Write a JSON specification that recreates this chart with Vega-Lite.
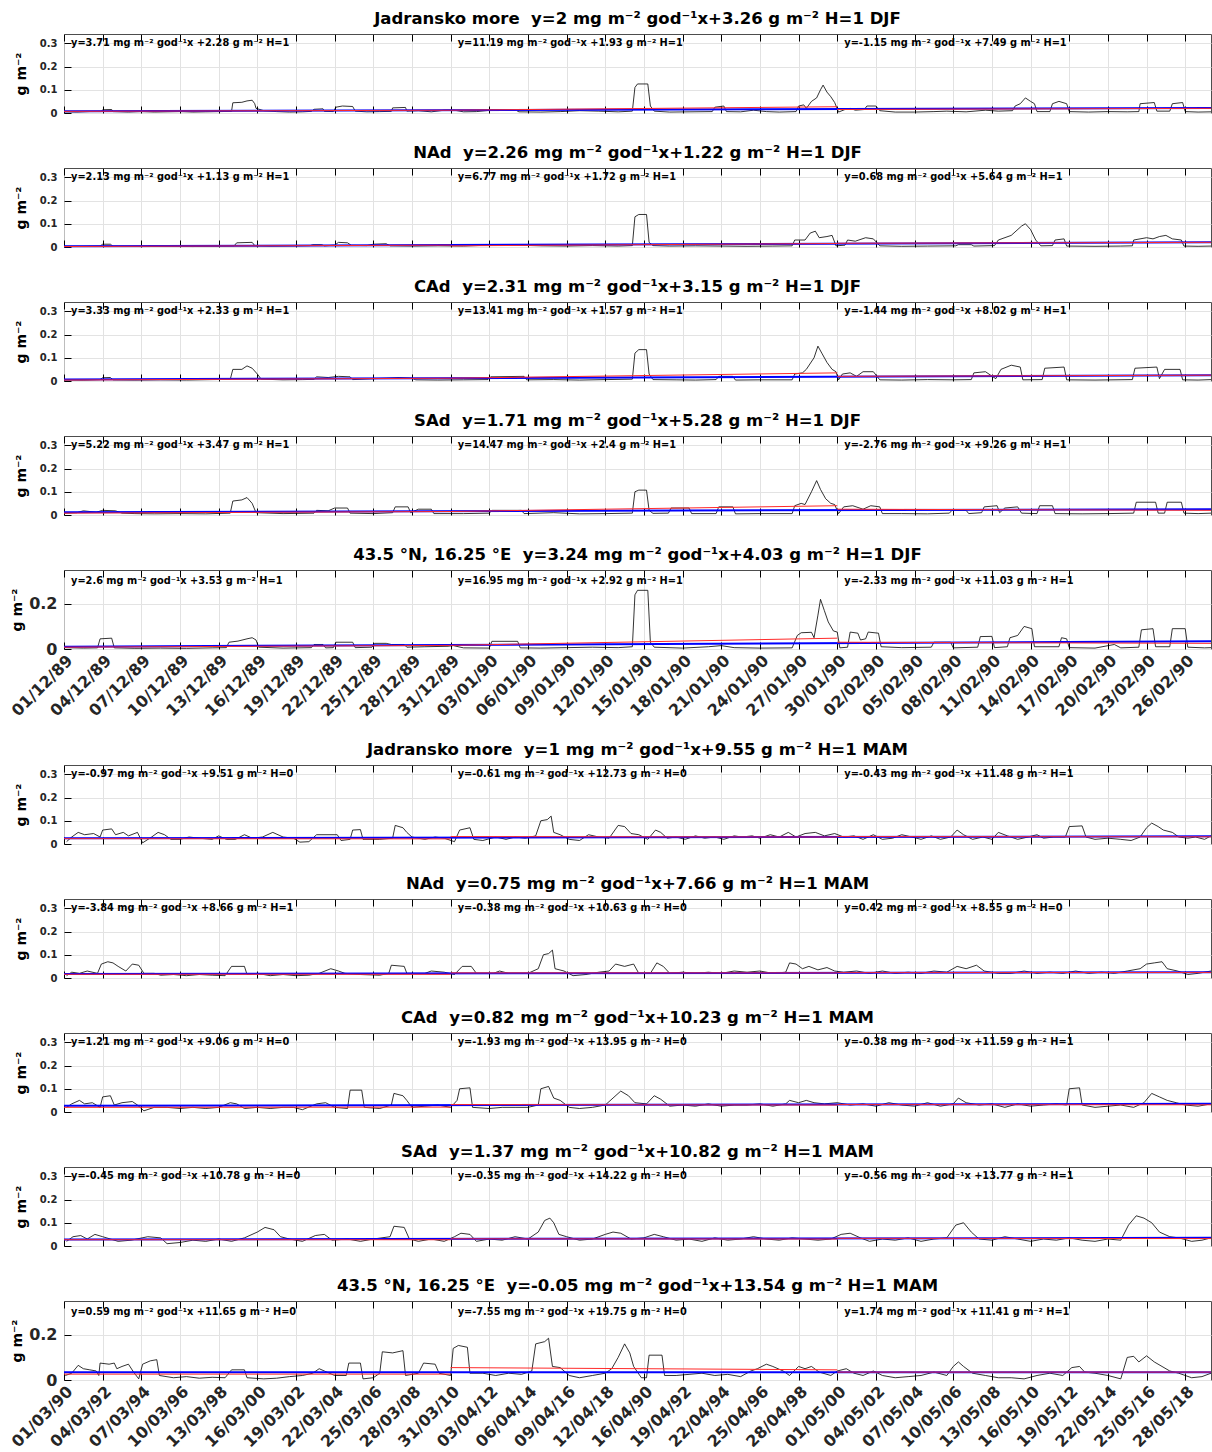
{
"$schema": "https://vega.github.io/schema/vega-lite/v6.json",
"background": "white",
"padding": {"left": 8, "top": 10, "right": 0, "bottom": 0},
"config": {
 "view": {"stroke": "#4d4d4d", "strokeWidth": 1},
 "font": "DejaVu Sans",
 "title": {"fontSize": 16.5, "fontWeight": "bold", "font": "DejaVu Sans", "offset": 6, "anchor": "middle", "color": "#000000"},
 "axis": {"labelFont": "DejaVu Sans", "titleFont": "DejaVu Sans", "labelOverlap": false}
},
"datasets": {
"black": [
{"p":1,"x":0,"y":0.005},{"p":1,"x":1,"y":0.004},{"p":1,"x":2,"y":0.006},{"p":1,"x":2.9,"y":0.006},{"p":1,"x":3.0,"y":0.014},{"p":1,"x":3.7,"y":0.015},{"p":1,"x":3.8,"y":0.006},{"p":1,"x":5,"y":0.004},{"p":1,"x":6,"y":0.006},{"p":1,"x":7,"y":0.004},{"p":1,"x":8,"y":0.005},{"p":1,"x":9,"y":0.006},{"p":1,"x":10,"y":0.004},{"p":1,"x":11,"y":0.005},{"p":1,"x":12,"y":0.006},{"p":1,"x":13.0,"y":0.007},{"p":1,"x":13.1,"y":0.044},{"p":1,"x":13.8,"y":0.046},{"p":1,"x":14.2,"y":0.052},{"p":1,"x":14.6,"y":0.055},{"p":1,"x":14.8,"y":0.04},{"p":1,"x":14.9,"y":0.02},{"p":1,"x":15.5,"y":0.01},{"p":1,"x":16.5,"y":0.006},{"p":1,"x":17.5,"y":0.004},{"p":1,"x":18.5,"y":0.005},{"p":1,"x":19.2,"y":0.007},{"p":1,"x":19.4,"y":0.016},{"p":1,"x":20.1,"y":0.018},{"p":1,"x":20.2,"y":0.007},{"p":1,"x":20.9,"y":0.006},{"p":1,"x":21.1,"y":0.025},{"p":1,"x":21.6,"y":0.03},{"p":1,"x":22.4,"y":0.028},{"p":1,"x":22.6,"y":0.008},{"p":1,"x":23.5,"y":0.005},{"p":1,"x":24.5,"y":0.006},{"p":1,"x":25.4,"y":0.007},{"p":1,"x":25.5,"y":0.022},{"p":1,"x":26.5,"y":0.024},{"p":1,"x":26.6,"y":0.008},{"p":1,"x":27.5,"y":0.01},{"p":1,"x":28.5,"y":0.005},{"p":1,"x":29.5,"y":0.012},{"p":1,"x":30.3,"y":0.012},{"p":1,"x":31,"y":0.005},{"p":1,"x":32,"y":0.006},{"p":1,"x":33.5,"y":0.014},{"p":1,"x":35,"y":0.014},{"p":1,"x":35.3,"y":0.005},{"p":1,"x":37,"y":0.004},{"p":1,"x":38.5,"y":0.006},{"p":1,"x":40,"y":0.01},{"p":1,"x":41.5,"y":0.008},{"p":1,"x":43,"y":0.005},{"p":1,"x":44.1,"y":0.008},{"p":1,"x":44.3,"y":0.11},{"p":1,"x":44.5,"y":0.125},{"p":1,"x":45.3,"y":0.125},{"p":1,"x":45.5,"y":0.03},{"p":1,"x":45.8,"y":0.008},{"p":1,"x":47,"y":0.004},{"p":1,"x":48.5,"y":0.005},{"p":1,"x":50.3,"y":0.006},{"p":1,"x":50.5,"y":0.025},{"p":1,"x":51.2,"y":0.03},{"p":1,"x":51.4,"y":0.006},{"p":1,"x":52.5,"y":0.005},{"p":1,"x":53.5,"y":0.012},{"p":1,"x":54.5,"y":0.006},{"p":1,"x":55.5,"y":0.004},{"p":1,"x":56.8,"y":0.006},{"p":1,"x":57,"y":0.03},{"p":1,"x":57.4,"y":0.035},{"p":1,"x":57.6,"y":0.02},{"p":1,"x":58,"y":0.05},{"p":1,"x":58.4,"y":0.065},{"p":1,"x":58.7,"y":0.1},{"p":1,"x":58.9,"y":0.12},{"p":1,"x":59.2,"y":0.09},{"p":1,"x":59.5,"y":0.07},{"p":1,"x":59.8,"y":0.045},{"p":1,"x":60.1,"y":0.004},{"p":1,"x":60.6,"y":0.015},{"p":1,"x":61,"y":0.02},{"p":1,"x":61.4,"y":0.012},{"p":1,"x":62.1,"y":0.015},{"p":1,"x":62.3,"y":0.03},{"p":1,"x":63,"y":0.03},{"p":1,"x":63.3,"y":0.01},{"p":1,"x":64.5,"y":0.004},{"p":1,"x":66,"y":0.004},{"p":1,"x":67.5,"y":0.006},{"p":1,"x":68.5,"y":0.008},{"p":1,"x":70,"y":0.005},{"p":1,"x":71.5,"y":0.012},{"p":1,"x":72.5,"y":0.008},{"p":1,"x":73.6,"y":0.01},{"p":1,"x":73.8,"y":0.03},{"p":1,"x":74.2,"y":0.04},{"p":1,"x":74.6,"y":0.065},{"p":1,"x":75,"y":0.05},{"p":1,"x":75.3,"y":0.04},{"p":1,"x":75.5,"y":0.006},{"p":1,"x":76.5,"y":0.006},{"p":1,"x":76.7,"y":0.04},{"p":1,"x":77.2,"y":0.05},{"p":1,"x":77.8,"y":0.04},{"p":1,"x":78,"y":0.006},{"p":1,"x":79.5,"y":0.004},{"p":1,"x":81,"y":0.006},{"p":1,"x":82.5,"y":0.005},{"p":1,"x":83.4,"y":0.006},{"p":1,"x":83.5,"y":0.04},{"p":1,"x":84.6,"y":0.045},{"p":1,"x":84.8,"y":0.008},{"p":1,"x":85.8,"y":0.008},{"p":1,"x":86,"y":0.04},{"p":1,"x":86.8,"y":0.045},{"p":1,"x":87,"y":0.006},{"p":1,"x":88,"y":0.004},{"p":1,"x":89,"y":0.005},
{"p":2,"x":0,"y":0.003},{"p":2,"x":1.5,"y":0.003},{"p":2,"x":2.8,"y":0.004},{"p":2,"x":3.0,"y":0.012},{"p":2,"x":3.6,"y":0.012},{"p":2,"x":3.8,"y":0.003},{"p":2,"x":6,"y":0.002},{"p":2,"x":8,"y":0.003},{"p":2,"x":10,"y":0.002},{"p":2,"x":12,"y":0.004},{"p":2,"x":13.2,"y":0.005},{"p":2,"x":13.4,"y":0.018},{"p":2,"x":14.6,"y":0.02},{"p":2,"x":14.8,"y":0.006},{"p":2,"x":16,"y":0.004},{"p":2,"x":18,"y":0.005},{"p":2,"x":19.1,"y":0.006},{"p":2,"x":19.3,"y":0.01},{"p":2,"x":20,"y":0.01},{"p":2,"x":20.2,"y":0.005},{"p":2,"x":21,"y":0.008},{"p":2,"x":21.3,"y":0.02},{"p":2,"x":22,"y":0.018},{"p":2,"x":22.3,"y":0.007},{"p":2,"x":23.5,"y":0.006},{"p":2,"x":24,"y":0.012},{"p":2,"x":25,"y":0.014},{"p":2,"x":25.3,"y":0.005},{"p":2,"x":27,"y":0.004},{"p":2,"x":29,"y":0.005},{"p":2,"x":31,"y":0.004},{"p":2,"x":33,"y":0.008},{"p":2,"x":35,"y":0.008},{"p":2,"x":37,"y":0.005},{"p":2,"x":39,"y":0.004},{"p":2,"x":41,"y":0.006},{"p":2,"x":43,"y":0.004},{"p":2,"x":44.1,"y":0.006},{"p":2,"x":44.3,"y":0.13},{"p":2,"x":44.6,"y":0.14},{"p":2,"x":45.2,"y":0.14},{"p":2,"x":45.4,"y":0.02},{"p":2,"x":45.7,"y":0.006},{"p":2,"x":47,"y":0.004},{"p":2,"x":49,"y":0.005},{"p":2,"x":51,"y":0.004},{"p":2,"x":53,"y":0.003},{"p":2,"x":55,"y":0.004},{"p":2,"x":56.5,"y":0.005},{"p":2,"x":56.7,"y":0.03},{"p":2,"x":57.5,"y":0.03},{"p":2,"x":57.9,"y":0.06},{"p":2,"x":58.3,"y":0.068},{"p":2,"x":58.6,"y":0.04},{"p":2,"x":59.2,"y":0.045},{"p":2,"x":59.6,"y":0.05},{"p":2,"x":59.9,"y":0.005},{"p":2,"x":60.6,"y":0.008},{"p":2,"x":60.8,"y":0.03},{"p":2,"x":61.4,"y":0.025},{"p":2,"x":62.2,"y":0.04},{"p":2,"x":62.8,"y":0.035},{"p":2,"x":63.3,"y":0.005},{"p":2,"x":65,"y":0.003},{"p":2,"x":67,"y":0.004},{"p":2,"x":69.2,"y":0.005},{"p":2,"x":69.4,"y":0.01},{"p":2,"x":70.4,"y":0.01},{"p":2,"x":70.6,"y":0.004},{"p":2,"x":72.2,"y":0.006},{"p":2,"x":72.5,"y":0.03},{"p":2,"x":73.5,"y":0.05},{"p":2,"x":74.3,"y":0.09},{"p":2,"x":74.6,"y":0.1},{"p":2,"x":75,"y":0.075},{"p":2,"x":75.4,"y":0.03},{"p":2,"x":75.8,"y":0.005},{"p":2,"x":76.7,"y":0.006},{"p":2,"x":76.9,"y":0.03},{"p":2,"x":77.6,"y":0.035},{"p":2,"x":77.8,"y":0.004},{"p":2,"x":80,"y":0.003},{"p":2,"x":82,"y":0.004},{"p":2,"x":82.9,"y":0.005},{"p":2,"x":83,"y":0.03},{"p":2,"x":84,"y":0.04},{"p":2,"x":84.5,"y":0.035},{"p":2,"x":85,"y":0.045},{"p":2,"x":85.5,"y":0.05},{"p":2,"x":86,"y":0.035},{"p":2,"x":86.7,"y":0.03},{"p":2,"x":86.9,"y":0.004},{"p":2,"x":88,"y":0.003},{"p":2,"x":89,"y":0.004},
{"p":3,"x":0,"y":0.005},{"p":3,"x":1.5,"y":0.004},{"p":3,"x":2.8,"y":0.006},{"p":3,"x":3.0,"y":0.014},{"p":3,"x":3.6,"y":0.015},{"p":3,"x":3.8,"y":0.005},{"p":3,"x":5.5,"y":0.004},{"p":3,"x":7.5,"y":0.005},{"p":3,"x":9.5,"y":0.004},{"p":3,"x":11.5,"y":0.006},{"p":3,"x":12.9,"y":0.007},{"p":3,"x":13.1,"y":0.05},{"p":3,"x":13.8,"y":0.05},{"p":3,"x":14.2,"y":0.065},{"p":3,"x":14.6,"y":0.055},{"p":3,"x":15,"y":0.03},{"p":3,"x":15.3,"y":0.008},{"p":3,"x":17,"y":0.005},{"p":3,"x":18.5,"y":0.006},{"p":3,"x":19.4,"y":0.007},{"p":3,"x":19.6,"y":0.018},{"p":3,"x":20.5,"y":0.015},{"p":3,"x":21.3,"y":0.02},{"p":3,"x":22.2,"y":0.018},{"p":3,"x":22.4,"y":0.006},{"p":3,"x":24,"y":0.01},{"p":3,"x":25,"y":0.012},{"p":3,"x":26,"y":0.015},{"p":3,"x":27,"y":0.012},{"p":3,"x":27.3,"y":0.005},{"p":3,"x":29,"y":0.004},{"p":3,"x":31,"y":0.005},{"p":3,"x":32.9,"y":0.006},{"p":3,"x":33.1,"y":0.018},{"p":3,"x":35.7,"y":0.02},{"p":3,"x":35.9,"y":0.005},{"p":3,"x":38,"y":0.006},{"p":3,"x":40,"y":0.004},{"p":3,"x":42,"y":0.006},{"p":3,"x":44.1,"y":0.008},{"p":3,"x":44.3,"y":0.12},{"p":3,"x":44.6,"y":0.135},{"p":3,"x":45.2,"y":0.135},{"p":3,"x":45.4,"y":0.03},{"p":3,"x":45.7,"y":0.006},{"p":3,"x":47.5,"y":0.005},{"p":3,"x":49,"y":0.004},{"p":3,"x":50.6,"y":0.006},{"p":3,"x":50.8,"y":0.02},{"p":3,"x":51.9,"y":0.02},{"p":3,"x":52.1,"y":0.004},{"p":3,"x":54,"y":0.005},{"p":3,"x":56.5,"y":0.005},{"p":3,"x":56.7,"y":0.03},{"p":3,"x":57.3,"y":0.035},{"p":3,"x":57.6,"y":0.05},{"p":3,"x":58.2,"y":0.1},{"p":3,"x":58.5,"y":0.15},{"p":3,"x":58.8,"y":0.12},{"p":3,"x":59.2,"y":0.08},{"p":3,"x":59.6,"y":0.05},{"p":3,"x":59.9,"y":0.04},{"p":3,"x":60.1,"y":0.005},{"p":3,"x":60.4,"y":0.03},{"p":3,"x":61,"y":0.035},{"p":3,"x":61.5,"y":0.02},{"p":3,"x":62,"y":0.04},{"p":3,"x":62.8,"y":0.04},{"p":3,"x":63.3,"y":0.005},{"p":3,"x":65,"y":0.004},{"p":3,"x":67,"y":0.006},{"p":3,"x":69,"y":0.005},{"p":3,"x":70.4,"y":0.006},{"p":3,"x":70.6,"y":0.035},{"p":3,"x":71.5,"y":0.04},{"p":3,"x":72.3,"y":0.01},{"p":3,"x":72.7,"y":0.05},{"p":3,"x":73.5,"y":0.068},{"p":3,"x":74.2,"y":0.06},{"p":3,"x":74.4,"y":0.005},{"p":3,"x":75.9,"y":0.006},{"p":3,"x":76.1,"y":0.055},{"p":3,"x":77.6,"y":0.06},{"p":3,"x":77.8,"y":0.005},{"p":3,"x":80,"y":0.004},{"p":3,"x":82.9,"y":0.006},{"p":3,"x":83.1,"y":0.055},{"p":3,"x":84.8,"y":0.06},{"p":3,"x":85,"y":0.01},{"p":3,"x":85.4,"y":0.05},{"p":3,"x":86.6,"y":0.05},{"p":3,"x":86.8,"y":0.005},{"p":3,"x":88,"y":0.004},{"p":3,"x":89,"y":0.006},
{"p":4,"x":0,"y":0.008},{"p":4,"x":1,"y":0.01},{"p":4,"x":1.5,"y":0.018},{"p":4,"x":2.5,"y":0.012},{"p":4,"x":3,"y":0.02},{"p":4,"x":4,"y":0.018},{"p":4,"x":4.5,"y":0.008},{"p":4,"x":5.5,"y":0.006},{"p":4,"x":7,"y":0.005},{"p":4,"x":9,"y":0.006},{"p":4,"x":11,"y":0.005},{"p":4,"x":12.9,"y":0.008},{"p":4,"x":13.1,"y":0.06},{"p":4,"x":13.8,"y":0.065},{"p":4,"x":14.2,"y":0.075},{"p":4,"x":14.6,"y":0.05},{"p":4,"x":14.9,"y":0.01},{"p":4,"x":17,"y":0.006},{"p":4,"x":19.4,"y":0.008},{"p":4,"x":19.6,"y":0.02},{"p":4,"x":20.5,"y":0.018},{"p":4,"x":21,"y":0.03},{"p":4,"x":22,"y":0.03},{"p":4,"x":22.2,"y":0.008},{"p":4,"x":24,"y":0.006},{"p":4,"x":25.5,"y":0.01},{"p":4,"x":25.7,"y":0.035},{"p":4,"x":26.7,"y":0.035},{"p":4,"x":26.9,"y":0.01},{"p":4,"x":27.5,"y":0.025},{"p":4,"x":28.5,"y":0.025},{"p":4,"x":28.7,"y":0.006},{"p":4,"x":31,"y":0.006},{"p":4,"x":33,"y":0.008},{"p":4,"x":33.2,"y":0.02},{"p":4,"x":35.5,"y":0.02},{"p":4,"x":35.7,"y":0.006},{"p":4,"x":38,"y":0.01},{"p":4,"x":40,"y":0.005},{"p":4,"x":42,"y":0.006},{"p":4,"x":44.1,"y":0.008},{"p":4,"x":44.3,"y":0.1},{"p":4,"x":44.6,"y":0.107},{"p":4,"x":45.2,"y":0.107},{"p":4,"x":45.4,"y":0.02},{"p":4,"x":45.7,"y":0.007},{"p":4,"x":46.9,"y":0.008},{"p":4,"x":47.1,"y":0.03},{"p":4,"x":48.5,"y":0.03},{"p":4,"x":48.7,"y":0.006},{"p":4,"x":50.6,"y":0.006},{"p":4,"x":50.8,"y":0.035},{"p":4,"x":51.9,"y":0.035},{"p":4,"x":52.1,"y":0.005},{"p":4,"x":54,"y":0.006},{"p":4,"x":56.5,"y":0.006},{"p":4,"x":56.7,"y":0.04},{"p":4,"x":57.2,"y":0.05},{"p":4,"x":57.5,"y":0.045},{"p":4,"x":58,"y":0.1},{"p":4,"x":58.4,"y":0.148},{"p":4,"x":58.7,"y":0.11},{"p":4,"x":59.1,"y":0.07},{"p":4,"x":59.5,"y":0.05},{"p":4,"x":59.8,"y":0.045},{"p":4,"x":60.1,"y":0.006},{"p":4,"x":60.5,"y":0.035},{"p":4,"x":61.2,"y":0.04},{"p":4,"x":62,"y":0.025},{"p":4,"x":62.6,"y":0.04},{"p":4,"x":63.3,"y":0.035},{"p":4,"x":63.5,"y":0.006},{"p":4,"x":65,"y":0.006},{"p":4,"x":67,"y":0.005},{"p":4,"x":68.7,"y":0.008},{"p":4,"x":68.9,"y":0.02},{"p":4,"x":70,"y":0.02},{"p":4,"x":70.2,"y":0.006},{"p":4,"x":71.2,"y":0.01},{"p":4,"x":71.4,"y":0.035},{"p":4,"x":72.4,"y":0.04},{"p":4,"x":72.6,"y":0.01},{"p":4,"x":73,"y":0.03},{"p":4,"x":74,"y":0.035},{"p":4,"x":74.3,"y":0.008},{"p":4,"x":75.5,"y":0.006},{"p":4,"x":75.7,"y":0.04},{"p":4,"x":76.7,"y":0.04},{"p":4,"x":76.9,"y":0.006},{"p":4,"x":79,"y":0.005},{"p":4,"x":81,"y":0.006},{"p":4,"x":83,"y":0.008},{"p":4,"x":83.2,"y":0.055},{"p":4,"x":84.7,"y":0.055},{"p":4,"x":84.9,"y":0.008},{"p":4,"x":85.4,"y":0.008},{"p":4,"x":85.6,"y":0.055},{"p":4,"x":86.7,"y":0.055},{"p":4,"x":86.9,"y":0.008},{"p":4,"x":88,"y":0.006},{"p":4,"x":89,"y":0.008},
{"p":5,"x":0,"y":0.006},{"p":5,"x":1.5,"y":0.004},{"p":5,"x":2.6,"y":0.005},{"p":5,"x":2.8,"y":0.045},{"p":5,"x":3.7,"y":0.048},{"p":5,"x":3.9,"y":0.005},{"p":5,"x":5.5,"y":0.003},{"p":5,"x":7.5,"y":0.004},{"p":5,"x":9.5,"y":0.003},{"p":5,"x":11.5,"y":0.005},{"p":5,"x":12.6,"y":0.006},{"p":5,"x":12.8,"y":0.03},{"p":5,"x":13.5,"y":0.035},{"p":5,"x":14.2,"y":0.045},{"p":5,"x":14.6,"y":0.05},{"p":5,"x":14.9,"y":0.04},{"p":5,"x":15.1,"y":0.008},{"p":5,"x":17,"y":0.004},{"p":5,"x":19.2,"y":0.006},{"p":5,"x":19.4,"y":0.02},{"p":5,"x":20.1,"y":0.02},{"p":5,"x":20.3,"y":0.005},{"p":5,"x":20.9,"y":0.006},{"p":5,"x":21.1,"y":0.03},{"p":5,"x":22.4,"y":0.03},{"p":5,"x":22.6,"y":0.006},{"p":5,"x":23.9,"y":0.008},{"p":5,"x":24.1,"y":0.025},{"p":5,"x":25,"y":0.025},{"p":5,"x":25.4,"y":0.02},{"p":5,"x":26.4,"y":0.02},{"p":5,"x":26.6,"y":0.008},{"p":5,"x":28,"y":0.01},{"p":5,"x":29.8,"y":0.012},{"p":5,"x":30.2,"y":0.015},{"p":5,"x":31,"y":0.005},{"p":5,"x":33,"y":0.004},{"p":5,"x":33.2,"y":0.034},{"p":5,"x":35.2,"y":0.034},{"p":5,"x":35.4,"y":0.005},{"p":5,"x":37,"y":0.004},{"p":5,"x":39,"y":0.006},{"p":5,"x":41,"y":0.008},{"p":5,"x":43,"y":0.006},{"p":5,"x":44.1,"y":0.01},{"p":5,"x":44.3,"y":0.24},{"p":5,"x":44.5,"y":0.26},{"p":5,"x":45.3,"y":0.26},{"p":5,"x":45.5,"y":0.03},{"p":5,"x":45.8,"y":0.008},{"p":5,"x":48,"y":0.004},{"p":5,"x":50,"y":0.01},{"p":5,"x":51,"y":0.015},{"p":5,"x":52,"y":0.006},{"p":5,"x":54,"y":0.004},{"p":5,"x":56.5,"y":0.005},{"p":5,"x":56.9,"y":0.06},{"p":5,"x":57.2,"y":0.072},{"p":5,"x":58,"y":0.074},{"p":5,"x":58.2,"y":0.05},{"p":5,"x":58.5,"y":0.15},{"p":5,"x":58.7,"y":0.22},{"p":5,"x":59,"y":0.17},{"p":5,"x":59.3,"y":0.12},{"p":5,"x":59.7,"y":0.08},{"p":5,"x":60,"y":0.075},{"p":5,"x":60.2,"y":0.005},{"p":5,"x":60.8,"y":0.008},{"p":5,"x":61,"y":0.075},{"p":5,"x":61.6,"y":0.07},{"p":5,"x":61.8,"y":0.04},{"p":5,"x":62.2,"y":0.045},{"p":5,"x":62.4,"y":0.075},{"p":5,"x":63.2,"y":0.07},{"p":5,"x":63.4,"y":0.01},{"p":5,"x":65,"y":0.006},{"p":5,"x":67.3,"y":0.008},{"p":5,"x":67.5,"y":0.03},{"p":5,"x":68.8,"y":0.03},{"p":5,"x":69,"y":0.005},{"p":5,"x":70.9,"y":0.008},{"p":5,"x":71.1,"y":0.055},{"p":5,"x":72,"y":0.056},{"p":5,"x":72.2,"y":0.006},{"p":5,"x":73.2,"y":0.01},{"p":5,"x":73.4,"y":0.05},{"p":5,"x":74,"y":0.06},{"p":5,"x":74.5,"y":0.1},{"p":5,"x":75.1,"y":0.09},{"p":5,"x":75.3,"y":0.01},{"p":5,"x":77.2,"y":0.01},{"p":5,"x":77.4,"y":0.05},{"p":5,"x":77.8,"y":0.045},{"p":5,"x":78,"y":0.006},{"p":5,"x":80,"y":0.004},{"p":5,"x":81.5,"y":0.02},{"p":5,"x":82,"y":0.005},{"p":5,"x":83.4,"y":0.008},{"p":5,"x":83.6,"y":0.085},{"p":5,"x":84.5,"y":0.09},{"p":5,"x":84.7,"y":0.01},{"p":5,"x":85.8,"y":0.01},{"p":5,"x":86,"y":0.09},{"p":5,"x":87,"y":0.09},{"p":5,"x":87.2,"y":0.008},{"p":5,"x":88.5,"y":0.005},{"p":5,"x":89,"y":0.006},
{"p":6,"x":0.2,"y":0.01},{"p":6,"x":0.6,"y":0.03},{"p":6,"x":1.1,"y":0.05},{"p":6,"x":1.6,"y":0.04},{"p":6,"x":2.3,"y":0.045},{"p":6,"x":2.8,"y":0.03},{"p":6,"x":3,"y":0.06},{"p":6,"x":3.7,"y":0.065},{"p":6,"x":4,"y":0.04},{"p":6,"x":4.6,"y":0.05},{"p":6,"x":5,"y":0.035},{"p":6,"x":5.7,"y":0.05},{"p":6,"x":6.1,"y":0.005},{"p":6,"x":6.8,"y":0.03},{"p":6,"x":7.3,"y":0.05},{"p":6,"x":7.8,"y":0.04},{"p":6,"x":8.3,"y":0.02},{"p":6,"x":9,"y":0.02},{"p":6,"x":9.7,"y":0.03},{"p":6,"x":10.5,"y":0.025},{"p":6,"x":11.5,"y":0.02},{"p":6,"x":12,"y":0.035},{"p":6,"x":12.6,"y":0.02},{"p":6,"x":13.3,"y":0.02},{"p":6,"x":14,"y":0.04},{"p":6,"x":14.6,"y":0.025},{"p":6,"x":15.4,"y":0.03},{"p":6,"x":16.2,"y":0.05},{"p":6,"x":17,"y":0.03},{"p":6,"x":17.8,"y":0.025},{"p":6,"x":18.3,"y":0.008},{"p":6,"x":19,"y":0.01},{"p":6,"x":19.6,"y":0.04},{"p":6,"x":21.2,"y":0.04},{"p":6,"x":21.5,"y":0.015},{"p":6,"x":22.2,"y":0.02},{"p":6,"x":22.4,"y":0.06},{"p":6,"x":23,"y":0.062},{"p":6,"x":23.2,"y":0.02},{"p":6,"x":24.5,"y":0.02},{"p":6,"x":25.5,"y":0.025},{"p":6,"x":25.7,"y":0.08},{"p":6,"x":26.3,"y":0.07},{"p":6,"x":26.6,"y":0.05},{"p":6,"x":27,"y":0.03},{"p":6,"x":28,"y":0.02},{"p":6,"x":28.8,"y":0.03},{"p":6,"x":29.5,"y":0.025},{"p":6,"x":30.3,"y":0.01},{"p":6,"x":30.7,"y":0.06},{"p":6,"x":31.5,"y":0.07},{"p":6,"x":31.8,"y":0.02},{"p":6,"x":32.5,"y":0.015},{"p":6,"x":33.5,"y":0.03},{"p":6,"x":34.3,"y":0.02},{"p":6,"x":35,"y":0.03},{"p":6,"x":35.8,"y":0.025},{"p":6,"x":36.6,"y":0.035},{"p":6,"x":37,"y":0.1},{"p":6,"x":37.5,"y":0.105},{"p":6,"x":37.8,"y":0.12},{"p":6,"x":38,"y":0.05},{"p":6,"x":38.5,"y":0.04},{"p":6,"x":39.2,"y":0.02},{"p":6,"x":40,"y":0.015},{"p":6,"x":40.7,"y":0.04},{"p":6,"x":41.5,"y":0.03},{"p":6,"x":42.3,"y":0.025},{"p":6,"x":43,"y":0.08},{"p":6,"x":43.5,"y":0.075},{"p":6,"x":44,"y":0.045},{"p":6,"x":44.6,"y":0.04},{"p":6,"x":45.3,"y":0.02},{"p":6,"x":45.9,"y":0.06},{"p":6,"x":46.3,"y":0.05},{"p":6,"x":46.8,"y":0.025},{"p":6,"x":47.5,"y":0.03},{"p":6,"x":48.2,"y":0.02},{"p":6,"x":49,"y":0.035},{"p":6,"x":49.7,"y":0.025},{"p":6,"x":50.5,"y":0.03},{"p":6,"x":51.2,"y":0.02},{"p":6,"x":52,"y":0.035},{"p":6,"x":52.6,"y":0.03},{"p":6,"x":53.4,"y":0.035},{"p":6,"x":54,"y":0.025},{"p":6,"x":54.8,"y":0.04},{"p":6,"x":55.5,"y":0.03},{"p":6,"x":56.2,"y":0.05},{"p":6,"x":56.8,"y":0.03},{"p":6,"x":57.5,"y":0.045},{"p":6,"x":58.3,"y":0.05},{"p":6,"x":59,"y":0.035},{"p":6,"x":59.8,"y":0.045},{"p":6,"x":60.5,"y":0.03},{"p":6,"x":61.3,"y":0.035},{"p":6,"x":62,"y":0.02},{"p":6,"x":62.8,"y":0.04},{"p":6,"x":63.5,"y":0.02},{"p":6,"x":64.3,"y":0.025},{"p":6,"x":65,"y":0.04},{"p":6,"x":65.8,"y":0.03},{"p":6,"x":66.5,"y":0.02},{"p":6,"x":67.3,"y":0.035},{"p":6,"x":68,"y":0.02},{"p":6,"x":68.8,"y":0.03},{"p":6,"x":69.3,"y":0.06},{"p":6,"x":69.8,"y":0.04},{"p":6,"x":70.5,"y":0.02},{"p":6,"x":71.3,"y":0.03},{"p":6,"x":72,"y":0.02},{"p":6,"x":72.5,"y":0.05},{"p":6,"x":73.2,"y":0.035},{"p":6,"x":74,"y":0.02},{"p":6,"x":74.8,"y":0.03},{"p":6,"x":75.5,"y":0.04},{"p":6,"x":76,"y":0.025},{"p":6,"x":76.8,"y":0.03},{"p":6,"x":77.7,"y":0.03},{"p":6,"x":78,"y":0.075},{"p":6,"x":79,"y":0.078},{"p":6,"x":79.3,"y":0.03},{"p":6,"x":80,"y":0.02},{"p":6,"x":81,"y":0.025},{"p":6,"x":82,"y":0.02},{"p":6,"x":82.8,"y":0.015},{"p":6,"x":83.5,"y":0.03},{"p":6,"x":84,"y":0.07},{"p":6,"x":84.4,"y":0.09},{"p":6,"x":84.9,"y":0.075},{"p":6,"x":85.3,"y":0.06},{"p":6,"x":86,"y":0.05},{"p":6,"x":86.5,"y":0.03},{"p":6,"x":87.2,"y":0.025},{"p":6,"x":87.8,"y":0.03},{"p":6,"x":88.5,"y":0.02},{"p":6,"x":89,"y":0.035},
{"p":7,"x":0.2,"y":0.01},{"p":7,"x":0.6,"y":0.025},{"p":7,"x":1.2,"y":0.02},{"p":7,"x":1.8,"y":0.03},{"p":7,"x":2.6,"y":0.02},{"p":7,"x":2.9,"y":0.06},{"p":7,"x":3.4,"y":0.07},{"p":7,"x":3.8,"y":0.065},{"p":7,"x":4.2,"y":0.05},{"p":7,"x":4.8,"y":0.03},{"p":7,"x":5.3,"y":0.06},{"p":7,"x":5.8,"y":0.055},{"p":7,"x":6.2,"y":0.02},{"p":7,"x":7,"y":0.02},{"p":7,"x":7.5,"y":0.012},{"p":7,"x":8.5,"y":0.015},{"p":7,"x":9.5,"y":0.01},{"p":7,"x":10.5,"y":0.015},{"p":7,"x":11.5,"y":0.012},{"p":7,"x":12.5,"y":0.01},{"p":7,"x":13,"y":0.05},{"p":7,"x":14,"y":0.05},{"p":7,"x":14.2,"y":0.015},{"p":7,"x":15,"y":0.02},{"p":7,"x":16,"y":0.01},{"p":7,"x":17,"y":0.015},{"p":7,"x":18,"y":0.01},{"p":7,"x":19,"y":0.012},{"p":7,"x":19.8,"y":0.02},{"p":7,"x":20.7,"y":0.04},{"p":7,"x":21.3,"y":0.03},{"p":7,"x":21.8,"y":0.02},{"p":7,"x":23,"y":0.015},{"p":7,"x":24.5,"y":0.012},{"p":7,"x":25.2,"y":0.02},{"p":7,"x":25.4,"y":0.055},{"p":7,"x":26.4,"y":0.05},{"p":7,"x":26.6,"y":0.02},{"p":7,"x":28,"y":0.02},{"p":7,"x":28.5,"y":0.03},{"p":7,"x":29.5,"y":0.025},{"p":7,"x":30.3,"y":0.015},{"p":7,"x":30.9,"y":0.05},{"p":7,"x":31.6,"y":0.05},{"p":7,"x":32,"y":0.02},{"p":7,"x":33.3,"y":0.02},{"p":7,"x":33.8,"y":0.03},{"p":7,"x":34.5,"y":0.02},{"p":7,"x":35,"y":0.02},{"p":7,"x":36,"y":0.02},{"p":7,"x":36.8,"y":0.04},{"p":7,"x":37.2,"y":0.1},{"p":7,"x":37.6,"y":0.105},{"p":7,"x":37.9,"y":0.12},{"p":7,"x":38.1,"y":0.04},{"p":7,"x":38.8,"y":0.03},{"p":7,"x":39.5,"y":0.01},{"p":7,"x":40.5,"y":0.015},{"p":7,"x":41.5,"y":0.025},{"p":7,"x":42.3,"y":0.03},{"p":7,"x":42.8,"y":0.06},{"p":7,"x":43.5,"y":0.05},{"p":7,"x":44.2,"y":0.06},{"p":7,"x":44.6,"y":0.02},{"p":7,"x":45.5,"y":0.02},{"p":7,"x":46,"y":0.065},{"p":7,"x":46.5,"y":0.05},{"p":7,"x":47,"y":0.02},{"p":7,"x":48,"y":0.025},{"p":7,"x":49,"y":0.02},{"p":7,"x":50,"y":0.025},{"p":7,"x":51,"y":0.02},{"p":7,"x":52,"y":0.03},{"p":7,"x":53,"y":0.025},{"p":7,"x":54,"y":0.03},{"p":7,"x":55,"y":0.02},{"p":7,"x":56,"y":0.025},{"p":7,"x":56.3,"y":0.065},{"p":7,"x":56.8,"y":0.06},{"p":7,"x":57.3,"y":0.04},{"p":7,"x":57.8,"y":0.05},{"p":7,"x":58.5,"y":0.035},{"p":7,"x":59.2,"y":0.045},{"p":7,"x":59.8,"y":0.03},{"p":7,"x":60.5,"y":0.025},{"p":7,"x":61.5,"y":0.03},{"p":7,"x":62.5,"y":0.02},{"p":7,"x":63.5,"y":0.03},{"p":7,"x":64.5,"y":0.02},{"p":7,"x":65.5,"y":0.025},{"p":7,"x":66.5,"y":0.02},{"p":7,"x":67.5,"y":0.03},{"p":7,"x":68.5,"y":0.025},{"p":7,"x":69.3,"y":0.05},{"p":7,"x":70,"y":0.04},{"p":7,"x":70.8,"y":0.055},{"p":7,"x":71.4,"y":0.03},{"p":7,"x":72.5,"y":0.02},{"p":7,"x":73.5,"y":0.02},{"p":7,"x":74.5,"y":0.03},{"p":7,"x":75.5,"y":0.02},{"p":7,"x":76.5,"y":0.025},{"p":7,"x":77.5,"y":0.02},{"p":7,"x":78.5,"y":0.03},{"p":7,"x":79.5,"y":0.02},{"p":7,"x":80.5,"y":0.025},{"p":7,"x":81.5,"y":0.02},{"p":7,"x":82.5,"y":0.03},{"p":7,"x":83.5,"y":0.04},{"p":7,"x":84,"y":0.06},{"p":7,"x":84.6,"y":0.065},{"p":7,"x":85.2,"y":0.07},{"p":7,"x":85.6,"y":0.04},{"p":7,"x":86.4,"y":0.03},{"p":7,"x":87.2,"y":0.015},{"p":7,"x":88,"y":0.02},{"p":7,"x":89,"y":0.03},
{"p":8,"x":0.2,"y":0.02},{"p":8,"x":0.6,"y":0.035},{"p":8,"x":1.2,"y":0.05},{"p":8,"x":1.6,"y":0.035},{"p":8,"x":2.2,"y":0.04},{"p":8,"x":2.8,"y":0.02},{"p":8,"x":3,"y":0.065},{"p":8,"x":3.6,"y":0.07},{"p":8,"x":3.9,"y":0.03},{"p":8,"x":4.5,"y":0.04},{"p":8,"x":5.3,"y":0.045},{"p":8,"x":5.7,"y":0.03},{"p":8,"x":6.2,"y":0.005},{"p":8,"x":7,"y":0.02},{"p":8,"x":8,"y":0.02},{"p":8,"x":9,"y":0.015},{"p":8,"x":10,"y":0.02},{"p":8,"x":11,"y":0.015},{"p":8,"x":12,"y":0.02},{"p":8,"x":12.9,"y":0.04},{"p":8,"x":13.4,"y":0.035},{"p":8,"x":14,"y":0.015},{"p":8,"x":15,"y":0.02},{"p":8,"x":16,"y":0.015},{"p":8,"x":17,"y":0.02},{"p":8,"x":17.8,"y":0.02},{"p":8,"x":18.5,"y":0.01},{"p":8,"x":19.6,"y":0.035},{"p":8,"x":20.3,"y":0.04},{"p":8,"x":21,"y":0.02},{"p":8,"x":22,"y":0.015},{"p":8,"x":22.2,"y":0.094},{"p":8,"x":23.1,"y":0.094},{"p":8,"x":23.3,"y":0.02},{"p":8,"x":24.5,"y":0.015},{"p":8,"x":25.4,"y":0.03},{"p":8,"x":25.6,"y":0.08},{"p":8,"x":26.3,"y":0.07},{"p":8,"x":26.6,"y":0.05},{"p":8,"x":27,"y":0.02},{"p":8,"x":28,"y":0.025},{"p":8,"x":29,"y":0.03},{"p":8,"x":30,"y":0.02},{"p":8,"x":30.5,"y":0.05},{"p":8,"x":30.7,"y":0.1},{"p":8,"x":31.5,"y":0.104},{"p":8,"x":31.7,"y":0.02},{"p":8,"x":33,"y":0.015},{"p":8,"x":34,"y":0.02},{"p":8,"x":35,"y":0.02},{"p":8,"x":36,"y":0.02},{"p":8,"x":36.8,"y":0.03},{"p":8,"x":37,"y":0.1},{"p":8,"x":37.6,"y":0.11},{"p":8,"x":38,"y":0.06},{"p":8,"x":38.5,"y":0.05},{"p":8,"x":39.2,"y":0.02},{"p":8,"x":40,"y":0.015},{"p":8,"x":41,"y":0.02},{"p":8,"x":42,"y":0.03},{"p":8,"x":42.6,"y":0.06},{"p":8,"x":43.2,"y":0.09},{"p":8,"x":43.8,"y":0.07},{"p":8,"x":44.3,"y":0.04},{"p":8,"x":45.2,"y":0.035},{"p":8,"x":45.8,"y":0.07},{"p":8,"x":46.3,"y":0.055},{"p":8,"x":47,"y":0.025},{"p":8,"x":48,"y":0.03},{"p":8,"x":49,"y":0.025},{"p":8,"x":50,"y":0.035},{"p":8,"x":51,"y":0.025},{"p":8,"x":52,"y":0.03},{"p":8,"x":53,"y":0.03},{"p":8,"x":54,"y":0.035},{"p":8,"x":55,"y":0.025},{"p":8,"x":56,"y":0.035},{"p":8,"x":56.3,"y":0.05},{"p":8,"x":57,"y":0.04},{"p":8,"x":57.6,"y":0.05},{"p":8,"x":58.2,"y":0.04},{"p":8,"x":59,"y":0.035},{"p":8,"x":60,"y":0.04},{"p":8,"x":61,"y":0.03},{"p":8,"x":62,"y":0.035},{"p":8,"x":63,"y":0.025},{"p":8,"x":64,"y":0.04},{"p":8,"x":65,"y":0.03},{"p":8,"x":66,"y":0.025},{"p":8,"x":67,"y":0.04},{"p":8,"x":68,"y":0.025},{"p":8,"x":69,"y":0.035},{"p":8,"x":69.4,"y":0.06},{"p":8,"x":70,"y":0.04},{"p":8,"x":71,"y":0.03},{"p":8,"x":72,"y":0.035},{"p":8,"x":73,"y":0.02},{"p":8,"x":74,"y":0.035},{"p":8,"x":75,"y":0.025},{"p":8,"x":76,"y":0.03},{"p":8,"x":77,"y":0.035},{"p":8,"x":77.8,"y":0.03},{"p":8,"x":78,"y":0.1},{"p":8,"x":78.8,"y":0.104},{"p":8,"x":79,"y":0.03},{"p":8,"x":80,"y":0.02},{"p":8,"x":81,"y":0.025},{"p":8,"x":82,"y":0.03},{"p":8,"x":83,"y":0.02},{"p":8,"x":83.8,"y":0.04},{"p":8,"x":84.4,"y":0.08},{"p":8,"x":85,"y":0.065},{"p":8,"x":85.6,"y":0.05},{"p":8,"x":86.3,"y":0.04},{"p":8,"x":87,"y":0.03},{"p":8,"x":88,"y":0.025},{"p":8,"x":89,"y":0.035},
{"p":9,"x":0.2,"y":0.02},{"p":9,"x":0.7,"y":0.04},{"p":9,"x":1.3,"y":0.045},{"p":9,"x":1.8,"y":0.03},{"p":9,"x":2.4,"y":0.05},{"p":9,"x":3,"y":0.04},{"p":9,"x":3.6,"y":0.03},{"p":9,"x":4.2,"y":0.02},{"p":9,"x":5.2,"y":0.025},{"p":9,"x":6.5,"y":0.04},{"p":9,"x":7.5,"y":0.035},{"p":9,"x":8,"y":0.01},{"p":9,"x":9,"y":0.015},{"p":9,"x":10,"y":0.025},{"p":9,"x":11,"y":0.02},{"p":9,"x":12,"y":0.03},{"p":9,"x":13,"y":0.02},{"p":9,"x":14,"y":0.035},{"p":9,"x":15,"y":0.06},{"p":9,"x":15.6,"y":0.08},{"p":9,"x":16.3,"y":0.07},{"p":9,"x":16.8,"y":0.04},{"p":9,"x":17.5,"y":0.03},{"p":9,"x":18.5,"y":0.02},{"p":9,"x":19.5,"y":0.045},{"p":9,"x":20.2,"y":0.05},{"p":9,"x":20.8,"y":0.025},{"p":9,"x":22,"y":0.03},{"p":9,"x":23,"y":0.02},{"p":9,"x":24,"y":0.03},{"p":9,"x":25.3,"y":0.04},{"p":9,"x":25.6,"y":0.085},{"p":9,"x":26.4,"y":0.08},{"p":9,"x":26.8,"y":0.03},{"p":9,"x":27.5,"y":0.02},{"p":9,"x":28.5,"y":0.03},{"p":9,"x":29.5,"y":0.02},{"p":9,"x":30.3,"y":0.04},{"p":9,"x":30.8,"y":0.055},{"p":9,"x":31.5,"y":0.05},{"p":9,"x":32,"y":0.02},{"p":9,"x":33,"y":0.03},{"p":9,"x":34,"y":0.025},{"p":9,"x":35,"y":0.04},{"p":9,"x":36,"y":0.03},{"p":9,"x":36.8,"y":0.06},{"p":9,"x":37.3,"y":0.11},{"p":9,"x":37.7,"y":0.12},{"p":9,"x":38,"y":0.1},{"p":9,"x":38.4,"y":0.05},{"p":9,"x":39,"y":0.04},{"p":9,"x":40,"y":0.025},{"p":9,"x":41,"y":0.03},{"p":9,"x":42,"y":0.05},{"p":9,"x":42.6,"y":0.06},{"p":9,"x":43.2,"y":0.055},{"p":9,"x":44,"y":0.03},{"p":9,"x":45,"y":0.035},{"p":9,"x":45.8,"y":0.05},{"p":9,"x":46.5,"y":0.04},{"p":9,"x":47.5,"y":0.025},{"p":9,"x":48.5,"y":0.03},{"p":9,"x":49.5,"y":0.02},{"p":9,"x":50.5,"y":0.035},{"p":9,"x":51.5,"y":0.025},{"p":9,"x":52.5,"y":0.03},{"p":9,"x":53.5,"y":0.04},{"p":9,"x":54.5,"y":0.03},{"p":9,"x":55.5,"y":0.025},{"p":9,"x":56.5,"y":0.035},{"p":9,"x":57.5,"y":0.03},{"p":9,"x":58.5,"y":0.025},{"p":9,"x":59.5,"y":0.03},{"p":9,"x":60.3,"y":0.05},{"p":9,"x":61,"y":0.055},{"p":9,"x":61.8,"y":0.035},{"p":9,"x":62.5,"y":0.02},{"p":9,"x":63.5,"y":0.03},{"p":9,"x":64.5,"y":0.025},{"p":9,"x":65.5,"y":0.035},{"p":9,"x":66.5,"y":0.02},{"p":9,"x":67.5,"y":0.03},{"p":9,"x":68.5,"y":0.035},{"p":9,"x":69.2,"y":0.09},{"p":9,"x":69.8,"y":0.1},{"p":9,"x":70.4,"y":0.06},{"p":9,"x":71,"y":0.03},{"p":9,"x":72,"y":0.025},{"p":9,"x":73,"y":0.04},{"p":9,"x":74,"y":0.03},{"p":9,"x":75,"y":0.02},{"p":9,"x":76,"y":0.03},{"p":9,"x":77,"y":0.025},{"p":9,"x":78,"y":0.035},{"p":9,"x":79,"y":0.025},{"p":9,"x":80,"y":0.02},{"p":9,"x":81,"y":0.03},{"p":9,"x":82,"y":0.025},{"p":9,"x":82.6,"y":0.09},{"p":9,"x":83.2,"y":0.13},{"p":9,"x":83.8,"y":0.12},{"p":9,"x":84.4,"y":0.1},{"p":9,"x":85,"y":0.06},{"p":9,"x":85.8,"y":0.04},{"p":9,"x":86.5,"y":0.035},{"p":9,"x":87.5,"y":0.02},{"p":9,"x":88.3,"y":0.025},{"p":9,"x":89,"y":0.035},
{"p":10,"x":0.1,"y":0.02},{"p":10,"x":0.6,"y":0.03},{"p":10,"x":1.1,"y":0.065},{"p":10,"x":1.5,"y":0.05},{"p":10,"x":2,"y":0.045},{"p":10,"x":2.5,"y":0.04},{"p":10,"x":2.7,"y":0.02},{"p":10,"x":2.8,"y":0.075},{"p":10,"x":3.5,"y":0.07},{"p":10,"x":3.9,"y":0.075},{"p":10,"x":4.1,"y":0.05},{"p":10,"x":4.5,"y":0.06},{"p":10,"x":5,"y":0.07},{"p":10,"x":5.4,"y":0.035},{"p":10,"x":5.8,"y":0.005},{"p":10,"x":6.1,"y":0.07},{"p":10,"x":6.7,"y":0.085},{"p":10,"x":7.2,"y":0.09},{"p":10,"x":7.4,"y":0.02},{"p":10,"x":8.5,"y":0.01},{"p":10,"x":9.5,"y":0.015},{"p":10,"x":10.5,"y":0.008},{"p":10,"x":11.5,"y":0.012},{"p":10,"x":12.5,"y":0.01},{"p":10,"x":13,"y":0.045},{"p":10,"x":14,"y":0.045},{"p":10,"x":14.2,"y":0.01},{"p":10,"x":15.5,"y":0.005},{"p":10,"x":16.5,"y":0.008},{"p":10,"x":17.5,"y":0.015},{"p":10,"x":18.5,"y":0.02},{"p":10,"x":19.3,"y":0.03},{"p":10,"x":19.8,"y":0.05},{"p":10,"x":20.2,"y":0.04},{"p":10,"x":21,"y":0.02},{"p":10,"x":21.9,"y":0.02},{"p":10,"x":22.1,"y":0.075},{"p":10,"x":23,"y":0.075},{"p":10,"x":23.2,"y":0.005},{"p":10,"x":24,"y":0.01},{"p":10,"x":24.5,"y":0.03},{"p":10,"x":24.7,"y":0.125},{"p":10,"x":25.5,"y":0.12},{"p":10,"x":26.3,"y":0.13},{"p":10,"x":26.5,"y":0.02},{"p":10,"x":27.5,"y":0.03},{"p":10,"x":27.9,"y":0.075},{"p":10,"x":28.8,"y":0.07},{"p":10,"x":29.1,"y":0.03},{"p":10,"x":30,"y":0.02},{"p":10,"x":30.2,"y":0.14},{"p":10,"x":30.6,"y":0.153},{"p":10,"x":31.3,"y":0.145},{"p":10,"x":31.5,"y":0.03},{"p":10,"x":32.5,"y":0.03},{"p":10,"x":33.5,"y":0.02},{"p":10,"x":34.5,"y":0.03},{"p":10,"x":35.5,"y":0.025},{"p":10,"x":36.3,"y":0.04},{"p":10,"x":36.6,"y":0.16},{"p":10,"x":37.3,"y":0.17},{"p":10,"x":37.6,"y":0.185},{"p":10,"x":37.9,"y":0.06},{"p":10,"x":38.5,"y":0.055},{"p":10,"x":39.2,"y":0.02},{"p":10,"x":40,"y":0.01},{"p":10,"x":41,"y":0.02},{"p":10,"x":42,"y":0.03},{"p":10,"x":42.5,"y":0.05},{"p":10,"x":43,"y":0.1},{"p":10,"x":43.5,"y":0.16},{"p":10,"x":43.9,"y":0.12},{"p":10,"x":44.2,"y":0.06},{"p":10,"x":44.8,"y":0.01},{"p":10,"x":45.2,"y":0.01},{"p":10,"x":45.4,"y":0.11},{"p":10,"x":46.4,"y":0.11},{"p":10,"x":46.6,"y":0.02},{"p":10,"x":47.5,"y":0.02},{"p":10,"x":48.5,"y":0.025},{"p":10,"x":49.5,"y":0.03},{"p":10,"x":50.5,"y":0.02},{"p":10,"x":51.5,"y":0.025},{"p":10,"x":52.5,"y":0.015},{"p":10,"x":53.3,"y":0.04},{"p":10,"x":53.8,"y":0.05},{"p":10,"x":54.5,"y":0.07},{"p":10,"x":55,"y":0.06},{"p":10,"x":55.8,"y":0.04},{"p":10,"x":56.3,"y":0.02},{"p":10,"x":57,"y":0.06},{"p":10,"x":57.5,"y":0.05},{"p":10,"x":58,"y":0.06},{"p":10,"x":58.6,"y":0.035},{"p":10,"x":59.5,"y":0.02},{"p":10,"x":60,"y":0.04},{"p":10,"x":60.7,"y":0.05},{"p":10,"x":61.3,"y":0.03},{"p":10,"x":62,"y":0.02},{"p":10,"x":62.8,"y":0.04},{"p":10,"x":63.5,"y":0.02},{"p":10,"x":64.5,"y":0.01},{"p":10,"x":65.5,"y":0.015},{"p":10,"x":66.5,"y":0.02},{"p":10,"x":67.5,"y":0.035},{"p":10,"x":68.5,"y":0.02},{"p":10,"x":69,"y":0.06},{"p":10,"x":69.4,"y":0.08},{"p":10,"x":69.8,"y":0.06},{"p":10,"x":70.5,"y":0.03},{"p":10,"x":71.5,"y":0.02},{"p":10,"x":72.5,"y":0.01},{"p":10,"x":73.5,"y":0.01},{"p":10,"x":74.5,"y":0.005},{"p":10,"x":75.5,"y":0.02},{"p":10,"x":76.5,"y":0.03},{"p":10,"x":77.5,"y":0.02},{"p":10,"x":78.2,"y":0.055},{"p":10,"x":78.8,"y":0.06},{"p":10,"x":79.2,"y":0.035},{"p":10,"x":80,"y":0.03},{"p":10,"x":81,"y":0.02},{"p":10,"x":82,"y":0.005},{"p":10,"x":82.5,"y":0.1},{"p":10,"x":83,"y":0.105},{"p":10,"x":83.4,"y":0.08},{"p":10,"x":84,"y":0.107},{"p":10,"x":84.6,"y":0.08},{"p":10,"x":85.2,"y":0.06},{"p":10,"x":85.8,"y":0.04},{"p":10,"x":86.5,"y":0.03},{"p":10,"x":87.5,"y":0.01},{"p":10,"x":88.3,"y":0.015},{"p":10,"x":89,"y":0.03}
],
"red": [
{"p":1,"s":1,"x":0,"y":0.007},{"p":1,"s":1,"x":30,"y":0.012},{"p":1,"s":2,"x":30,"y":0.012},{"p":1,"s":2,"x":60,"y":0.027},{"p":1,"s":3,"x":60,"y":0.015},{"p":1,"s":3,"x":89,"y":0.02},
{"p":2,"s":1,"x":0,"y":0.002},{"p":2,"s":1,"x":30,"y":0.008},{"p":2,"s":2,"x":30,"y":0.005},{"p":2,"s":2,"x":60,"y":0.015},{"p":2,"s":3,"x":60,"y":0.016},{"p":2,"s":3,"x":89,"y":0.02},
{"p":3,"s":1,"x":0,"y":0.004},{"p":3,"s":1,"x":30,"y":0.012},{"p":3,"s":2,"x":30,"y":0.012},{"p":3,"s":2,"x":60,"y":0.035},{"p":3,"s":3,"x":60,"y":0.02},{"p":3,"s":3,"x":89,"y":0.025},
{"p":4,"s":1,"x":0,"y":0.008},{"p":4,"s":1,"x":30,"y":0.015},{"p":4,"s":2,"x":30,"y":0.015},{"p":4,"s":2,"x":60,"y":0.04},{"p":4,"s":3,"x":60,"y":0.025},{"p":4,"s":3,"x":89,"y":0.02},
{"p":5,"s":1,"x":0,"y":0.008},{"p":5,"s":1,"x":30,"y":0.016},{"p":5,"s":2,"x":30,"y":0.016},{"p":5,"s":2,"x":60,"y":0.048},{"p":5,"s":3,"x":60,"y":0.03},{"p":5,"s":3,"x":89,"y":0.025},
{"p":6,"s":1,"x":0,"y":0.023},{"p":6,"s":1,"x":30,"y":0.022},{"p":6,"s":2,"x":30,"y":0.032},{"p":6,"s":2,"x":60,"y":0.03},{"p":6,"s":3,"x":60,"y":0.032},{"p":6,"s":3,"x":89,"y":0.031},
{"p":7,"s":1,"x":0,"y":0.016},{"p":7,"s":1,"x":30,"y":0.016},{"p":7,"s":2,"x":30,"y":0.022},{"p":7,"s":2,"x":60,"y":0.022},{"p":7,"s":3,"x":60,"y":0.023},{"p":7,"s":3,"x":89,"y":0.024},
{"p":8,"s":1,"x":0,"y":0.02},{"p":8,"s":1,"x":30,"y":0.021},{"p":8,"s":2,"x":30,"y":0.032},{"p":8,"s":2,"x":60,"y":0.03},{"p":8,"s":3,"x":60,"y":0.032},{"p":8,"s":3,"x":89,"y":0.031},
{"p":9,"s":1,"x":0,"y":0.027},{"p":9,"s":1,"x":30,"y":0.027},{"p":9,"s":2,"x":30,"y":0.031},{"p":9,"s":2,"x":60,"y":0.03},{"p":9,"s":3,"x":60,"y":0.033},{"p":9,"s":3,"x":89,"y":0.032},
{"p":10,"s":1,"x":0,"y":0.026},{"p":10,"s":1,"x":30,"y":0.026},{"p":10,"s":2,"x":30,"y":0.055},{"p":10,"s":2,"x":60,"y":0.045},{"p":10,"s":3,"x":60,"y":0.035},{"p":10,"s":3,"x":89,"y":0.035}
],
"blue": [
{"p":1,"x":0,"y":0.007},{"p":1,"x":89,"y":0.022},
{"p":2,"x":0,"y":0.003},{"p":2,"x":89,"y":0.02},
{"p":3,"x":0,"y":0.006},{"p":3,"x":89,"y":0.025},
{"p":4,"x":0,"y":0.012},{"p":4,"x":89,"y":0.025},
{"p":5,"x":0,"y":0.01},{"p":5,"x":89,"y":0.034},
{"p":6,"x":0,"y":0.025},{"p":6,"x":89,"y":0.033},
{"p":7,"x":0,"y":0.017},{"p":7,"x":89,"y":0.025},
{"p":8,"x":0,"y":0.027},{"p":8,"x":89,"y":0.035},
{"p":9,"x":0,"y":0.028},{"p":9,"x":89,"y":0.035},
{"p":10,"x":0,"y":0.034},{"p":10,"x":89,"y":0.034}
],
"notes": [
{"p":1,"x":0,"t":"y=3.71 mg m⁻² god⁻¹x +2.28 g m⁻² H=1"},{"p":1,"x":30,"t":"y=11.19 mg m⁻² god⁻¹x +1.93 g m⁻² H=1"},{"p":1,"x":60,"t":"y=-1.15 mg m⁻² god⁻¹x +7.49 g m⁻² H=1"},
{"p":2,"x":0,"t":"y=2.13 mg m⁻² god⁻¹x +1.13 g m⁻² H=1"},{"p":2,"x":30,"t":"y=6.77 mg m⁻² god⁻¹x +1.72 g m⁻² H=1"},{"p":2,"x":60,"t":"y=0.68 mg m⁻² god⁻¹x +5.64 g m⁻² H=1"},
{"p":3,"x":0,"t":"y=3.33 mg m⁻² god⁻¹x +2.33 g m⁻² H=1"},{"p":3,"x":30,"t":"y=13.41 mg m⁻² god⁻¹x +1.57 g m⁻² H=1"},{"p":3,"x":60,"t":"y=-1.44 mg m⁻² god⁻¹x +8.02 g m⁻² H=1"},
{"p":4,"x":0,"t":"y=5.22 mg m⁻² god⁻¹x +3.47 g m⁻² H=1"},{"p":4,"x":30,"t":"y=14.47 mg m⁻² god⁻¹x +2.4 g m⁻² H=1"},{"p":4,"x":60,"t":"y=-2.76 mg m⁻² god⁻¹x +9.26 g m⁻² H=1"},
{"p":5,"x":0,"t":"y=2.6 mg m⁻² god⁻¹x +3.53 g m⁻² H=1"},{"p":5,"x":30,"t":"y=16.95 mg m⁻² god⁻¹x +2.92 g m⁻² H=1"},{"p":5,"x":60,"t":"y=-2.33 mg m⁻² god⁻¹x +11.03 g m⁻² H=1"},
{"p":6,"x":0,"t":"y=-0.97 mg m⁻² god⁻¹x +9.51 g m⁻² H=0"},{"p":6,"x":30,"t":"y=-0.61 mg m⁻² god⁻¹x +12.73 g m⁻² H=0"},{"p":6,"x":60,"t":"y=-0.43 mg m⁻² god⁻¹x +11.48 g m⁻² H=1"},
{"p":7,"x":0,"t":"y=-3.84 mg m⁻² god⁻¹x +8.66 g m⁻² H=1"},{"p":7,"x":30,"t":"y=-0.38 mg m⁻² god⁻¹x +10.63 g m⁻² H=0"},{"p":7,"x":60,"t":"y=0.42 mg m⁻² god⁻¹x +8.55 g m⁻² H=0"},
{"p":8,"x":0,"t":"y=1.21 mg m⁻² god⁻¹x +9.06 g m⁻² H=0"},{"p":8,"x":30,"t":"y=-1.93 mg m⁻² god⁻¹x +13.95 g m⁻² H=0"},{"p":8,"x":60,"t":"y=-0.38 mg m⁻² god⁻¹x +11.59 g m⁻² H=1"},
{"p":9,"x":0,"t":"y=-0.45 mg m⁻² god⁻¹x +10.78 g m⁻² H=0"},{"p":9,"x":30,"t":"y=-0.35 mg m⁻² god⁻¹x +14.22 g m⁻² H=0"},{"p":9,"x":60,"t":"y=-0.56 mg m⁻² god⁻¹x +13.77 g m⁻² H=1"},
{"p":10,"x":0,"t":"y=0.59 mg m⁻² god⁻¹x +11.65 g m⁻² H=0"},{"p":10,"x":30,"t":"y=-7.55 mg m⁻² god⁻¹x +19.75 g m⁻² H=0"},{"p":10,"x":60,"t":"y=1.74 mg m⁻² god⁻¹x +11.41 g m⁻² H=1"}
]
},
"spacing": 21,
"vconcat": [
{"spacing": 25, "vconcat": [
{"title": "Jadransko more\u00a0\u00a0y=2 mg m⁻² god⁻¹x+3.26 g m⁻² H=1 DJF", "width": 1147, "height": 79, "resolve": {"axis": {"x": "independent"}},
 "layer": [
  {"layer": [
   {"data": {"name": "black"}, "transform": [{"filter": "datum.p==1"}], "mark": {"type": "line", "color": "#000000", "strokeWidth": 0.8},
    "encoding": {"x": {"field": "x", "type": "quantitative", "scale": {"domain": [0, 89], "nice": false, "zero": false}, "axis": {"values": [0,3,6,9,12,15,18,21,24,27,30,33,36,39,42,45,48,51,54,57,60,63,66,69,72,75,78,81,84,87], "tickCount": 100, "grid": true, "gridColor": "#dadada", "gridWidth": 0.8, "ticks": true, "tickSize": -7, "tickColor": "#000000", "labels": false, "domain": false, "title": null}},
     "y": {"field": "y", "type": "quantitative", "scale": {"domain": [0, 0.34], "nice": false}, "axis": {"values": [0, 0.1, 0.2, 0.3], "tickCount": 10, "grid": true, "gridColor": "#e3e3e3", "tickSize": -7, "tickColor": "#000000", "domain": false, "labelOverlap": false, "labelFontSize": 10, "labelFontWeight": "bold", "labelColor": "#262626", "labelPadding": 14, "labelExpr": "datum.value==0?'0':format(datum.value,'.1f')", "title": "g m⁻²", "titleFontSize": 14, "titleFontWeight": "bold", "titlePadding": 11, "titleColor": "#000000"}}}},
   {"data": {"name": "blue"}, "transform": [{"filter": "datum.p==1"}], "mark": {"type": "line", "color": "#0000ff", "strokeWidth": 2}, "encoding": {"x": {"field": "x", "type": "quantitative"}, "y": {"field": "y", "type": "quantitative"}}},
   {"data": {"name": "red"}, "transform": [{"filter": "datum.p==1"}], "mark": {"type": "line", "color": "#ff2a2a", "strokeWidth": 1}, "encoding": {"x": {"field": "x", "type": "quantitative"}, "y": {"field": "y", "type": "quantitative"}, "detail": {"field": "s"}}},
   {"data": {"name": "notes"}, "transform": [{"filter": "datum.p==1"}], "mark": {"type": "text", "align": "left", "baseline": "middle", "dx": 7, "fontSize": 9.8, "fontWeight": "bold", "color": "#000000"}, "encoding": {"x": {"field": "x", "type": "quantitative"}, "y": {"datum": 0.3}, "text": {"field": "t"}}}
  ]},
  {"data": {"name": "notes"}, "transform": [{"filter": "datum.p==1"}], "mark": {"type": "point", "opacity": 0}, "encoding": {"x": {"field": "x", "type": "quantitative", "axis": {"orient": "top", "values": [0,3,6,9,12,15,18,21,24,27,30,33,36,39,42,45,48,51,54,57,60,63,66,69,72,75,78,81,84,87], "tickCount": 100, "grid": false, "labels": false, "domain": false, "ticks": true, "tickSize": -7, "tickColor": "#000000", "title": null}}}}
 ]},
{"title": "NAd\u00a0\u00a0y=2.26 mg m⁻² god⁻¹x+1.22 g m⁻² H=1 DJF", "width": 1147, "height": 79, "resolve": {"axis": {"x": "independent"}},
 "layer": [
  {"layer": [
   {"data": {"name": "black"}, "transform": [{"filter": "datum.p==2"}], "mark": {"type": "line", "color": "#000000", "strokeWidth": 0.8},
    "encoding": {"x": {"field": "x", "type": "quantitative", "scale": {"domain": [0, 89], "nice": false, "zero": false}, "axis": {"values": [0,3,6,9,12,15,18,21,24,27,30,33,36,39,42,45,48,51,54,57,60,63,66,69,72,75,78,81,84,87], "tickCount": 100, "grid": true, "gridColor": "#dadada", "gridWidth": 0.8, "ticks": true, "tickSize": -7, "tickColor": "#000000", "labels": false, "domain": false, "title": null}},
     "y": {"field": "y", "type": "quantitative", "scale": {"domain": [0, 0.34], "nice": false}, "axis": {"values": [0, 0.1, 0.2, 0.3], "tickCount": 10, "grid": true, "gridColor": "#e3e3e3", "tickSize": -7, "tickColor": "#000000", "domain": false, "labelOverlap": false, "labelFontSize": 10, "labelFontWeight": "bold", "labelColor": "#262626", "labelPadding": 14, "labelExpr": "datum.value==0?'0':format(datum.value,'.1f')", "title": "g m⁻²", "titleFontSize": 14, "titleFontWeight": "bold", "titlePadding": 11, "titleColor": "#000000"}}}},
   {"data": {"name": "blue"}, "transform": [{"filter": "datum.p==2"}], "mark": {"type": "line", "color": "#0000ff", "strokeWidth": 2}, "encoding": {"x": {"field": "x", "type": "quantitative"}, "y": {"field": "y", "type": "quantitative"}}},
   {"data": {"name": "red"}, "transform": [{"filter": "datum.p==2"}], "mark": {"type": "line", "color": "#ff2a2a", "strokeWidth": 1}, "encoding": {"x": {"field": "x", "type": "quantitative"}, "y": {"field": "y", "type": "quantitative"}, "detail": {"field": "s"}}},
   {"data": {"name": "notes"}, "transform": [{"filter": "datum.p==2"}], "mark": {"type": "text", "align": "left", "baseline": "middle", "dx": 7, "fontSize": 9.8, "fontWeight": "bold", "color": "#000000"}, "encoding": {"x": {"field": "x", "type": "quantitative"}, "y": {"datum": 0.3}, "text": {"field": "t"}}}
  ]},
  {"data": {"name": "notes"}, "transform": [{"filter": "datum.p==2"}], "mark": {"type": "point", "opacity": 0}, "encoding": {"x": {"field": "x", "type": "quantitative", "axis": {"orient": "top", "values": [0,3,6,9,12,15,18,21,24,27,30,33,36,39,42,45,48,51,54,57,60,63,66,69,72,75,78,81,84,87], "tickCount": 100, "grid": false, "labels": false, "domain": false, "ticks": true, "tickSize": -7, "tickColor": "#000000", "title": null}}}}
 ]},
{"title": "CAd\u00a0\u00a0y=2.31 mg m⁻² god⁻¹x+3.15 g m⁻² H=1 DJF", "width": 1147, "height": 79, "resolve": {"axis": {"x": "independent"}},
 "layer": [
  {"layer": [
   {"data": {"name": "black"}, "transform": [{"filter": "datum.p==3"}], "mark": {"type": "line", "color": "#000000", "strokeWidth": 0.8},
    "encoding": {"x": {"field": "x", "type": "quantitative", "scale": {"domain": [0, 89], "nice": false, "zero": false}, "axis": {"values": [0,3,6,9,12,15,18,21,24,27,30,33,36,39,42,45,48,51,54,57,60,63,66,69,72,75,78,81,84,87], "tickCount": 100, "grid": true, "gridColor": "#dadada", "gridWidth": 0.8, "ticks": true, "tickSize": -7, "tickColor": "#000000", "labels": false, "domain": false, "title": null}},
     "y": {"field": "y", "type": "quantitative", "scale": {"domain": [0, 0.34], "nice": false}, "axis": {"values": [0, 0.1, 0.2, 0.3], "tickCount": 10, "grid": true, "gridColor": "#e3e3e3", "tickSize": -7, "tickColor": "#000000", "domain": false, "labelOverlap": false, "labelFontSize": 10, "labelFontWeight": "bold", "labelColor": "#262626", "labelPadding": 14, "labelExpr": "datum.value==0?'0':format(datum.value,'.1f')", "title": "g m⁻²", "titleFontSize": 14, "titleFontWeight": "bold", "titlePadding": 11, "titleColor": "#000000"}}}},
   {"data": {"name": "blue"}, "transform": [{"filter": "datum.p==3"}], "mark": {"type": "line", "color": "#0000ff", "strokeWidth": 2}, "encoding": {"x": {"field": "x", "type": "quantitative"}, "y": {"field": "y", "type": "quantitative"}}},
   {"data": {"name": "red"}, "transform": [{"filter": "datum.p==3"}], "mark": {"type": "line", "color": "#ff2a2a", "strokeWidth": 1}, "encoding": {"x": {"field": "x", "type": "quantitative"}, "y": {"field": "y", "type": "quantitative"}, "detail": {"field": "s"}}},
   {"data": {"name": "notes"}, "transform": [{"filter": "datum.p==3"}], "mark": {"type": "text", "align": "left", "baseline": "middle", "dx": 7, "fontSize": 9.8, "fontWeight": "bold", "color": "#000000"}, "encoding": {"x": {"field": "x", "type": "quantitative"}, "y": {"datum": 0.3}, "text": {"field": "t"}}}
  ]},
  {"data": {"name": "notes"}, "transform": [{"filter": "datum.p==3"}], "mark": {"type": "point", "opacity": 0}, "encoding": {"x": {"field": "x", "type": "quantitative", "axis": {"orient": "top", "values": [0,3,6,9,12,15,18,21,24,27,30,33,36,39,42,45,48,51,54,57,60,63,66,69,72,75,78,81,84,87], "tickCount": 100, "grid": false, "labels": false, "domain": false, "ticks": true, "tickSize": -7, "tickColor": "#000000", "title": null}}}}
 ]},
{"title": "SAd\u00a0\u00a0y=1.71 mg m⁻² god⁻¹x+5.28 g m⁻² H=1 DJF", "width": 1147, "height": 79, "resolve": {"axis": {"x": "independent"}},
 "layer": [
  {"layer": [
   {"data": {"name": "black"}, "transform": [{"filter": "datum.p==4"}], "mark": {"type": "line", "color": "#000000", "strokeWidth": 0.8},
    "encoding": {"x": {"field": "x", "type": "quantitative", "scale": {"domain": [0, 89], "nice": false, "zero": false}, "axis": {"values": [0,3,6,9,12,15,18,21,24,27,30,33,36,39,42,45,48,51,54,57,60,63,66,69,72,75,78,81,84,87], "tickCount": 100, "grid": true, "gridColor": "#dadada", "gridWidth": 0.8, "ticks": true, "tickSize": -7, "tickColor": "#000000", "labels": false, "domain": false, "title": null}},
     "y": {"field": "y", "type": "quantitative", "scale": {"domain": [0, 0.34], "nice": false}, "axis": {"values": [0, 0.1, 0.2, 0.3], "tickCount": 10, "grid": true, "gridColor": "#e3e3e3", "tickSize": -7, "tickColor": "#000000", "domain": false, "labelOverlap": false, "labelFontSize": 10, "labelFontWeight": "bold", "labelColor": "#262626", "labelPadding": 14, "labelExpr": "datum.value==0?'0':format(datum.value,'.1f')", "title": "g m⁻²", "titleFontSize": 14, "titleFontWeight": "bold", "titlePadding": 11, "titleColor": "#000000"}}}},
   {"data": {"name": "blue"}, "transform": [{"filter": "datum.p==4"}], "mark": {"type": "line", "color": "#0000ff", "strokeWidth": 2}, "encoding": {"x": {"field": "x", "type": "quantitative"}, "y": {"field": "y", "type": "quantitative"}}},
   {"data": {"name": "red"}, "transform": [{"filter": "datum.p==4"}], "mark": {"type": "line", "color": "#ff2a2a", "strokeWidth": 1}, "encoding": {"x": {"field": "x", "type": "quantitative"}, "y": {"field": "y", "type": "quantitative"}, "detail": {"field": "s"}}},
   {"data": {"name": "notes"}, "transform": [{"filter": "datum.p==4"}], "mark": {"type": "text", "align": "left", "baseline": "middle", "dx": 7, "fontSize": 9.8, "fontWeight": "bold", "color": "#000000"}, "encoding": {"x": {"field": "x", "type": "quantitative"}, "y": {"datum": 0.3}, "text": {"field": "t"}}}
  ]},
  {"data": {"name": "notes"}, "transform": [{"filter": "datum.p==4"}], "mark": {"type": "point", "opacity": 0}, "encoding": {"x": {"field": "x", "type": "quantitative", "axis": {"orient": "top", "values": [0,3,6,9,12,15,18,21,24,27,30,33,36,39,42,45,48,51,54,57,60,63,66,69,72,75,78,81,84,87], "tickCount": 100, "grid": false, "labels": false, "domain": false, "ticks": true, "tickSize": -7, "tickColor": "#000000", "title": null}}}}
 ]},
{"title": "43.5 °N, 16.25 °E\u00a0\u00a0y=3.24 mg m⁻² god⁻¹x+4.03 g m⁻² H=1 DJF", "width": 1147, "height": 79, "resolve": {"axis": {"x": "independent"}},
 "layer": [
  {"layer": [
   {"data": {"name": "black"}, "transform": [{"filter": "datum.p==5"}], "mark": {"type": "line", "color": "#000000", "strokeWidth": 0.8},
    "encoding": {"x": {"field": "x", "type": "quantitative", "scale": {"domain": [0, 89], "nice": false, "zero": false}, "axis": {"values": [0,3,6,9,12,15,18,21,24,27,30,33,36,39,42,45,48,51,54,57,60,63,66,69,72,75,78,81,84,87], "tickCount": 100, "grid": true, "gridColor": "#dadada", "gridWidth": 0.8, "ticks": true, "tickSize": -7, "tickColor": "#000000", "labels": true, "labelAngle": -45, "labelFontSize": 16, "labelFontWeight": "bold", "labelColor": "#262626", "labelPadding": 10, "labelOverlap": false, "labelFlush": false, "labelBound": false, "labelExpr": "['01/12/89','04/12/89','07/12/89','10/12/89','13/12/89','16/12/89','19/12/89','22/12/89','25/12/89','28/12/89','31/12/89','03/01/90','06/01/90','09/01/90','12/01/90','15/01/90','18/01/90','21/01/90','24/01/90','27/01/90','30/01/90','02/02/90','05/02/90','08/02/90','11/02/90','14/02/90','17/02/90','20/02/90','23/02/90','26/02/90'][round(datum.value/3)]", "domain": false, "title": null}},
     "y": {"field": "y", "type": "quantitative", "scale": {"domain": [0, 0.35], "nice": false}, "axis": {"values": [0, 0.2], "tickCount": 10, "grid": true, "gridColor": "#e3e3e3", "tickSize": -7, "tickColor": "#000000", "domain": false, "labelOverlap": false, "labelFontSize": 16, "labelFontWeight": "bold", "labelColor": "#262626", "labelPadding": 14, "labelExpr": "datum.value==0?'0':format(datum.value,'.1f')", "title": "g m⁻²", "titleFontSize": 14, "titleFontWeight": "bold", "titlePadding": 4, "titleColor": "#000000"}}}},
   {"data": {"name": "blue"}, "transform": [{"filter": "datum.p==5"}], "mark": {"type": "line", "color": "#0000ff", "strokeWidth": 2}, "encoding": {"x": {"field": "x", "type": "quantitative"}, "y": {"field": "y", "type": "quantitative"}}},
   {"data": {"name": "red"}, "transform": [{"filter": "datum.p==5"}], "mark": {"type": "line", "color": "#ff2a2a", "strokeWidth": 1}, "encoding": {"x": {"field": "x", "type": "quantitative"}, "y": {"field": "y", "type": "quantitative"}, "detail": {"field": "s"}}},
   {"data": {"name": "notes"}, "transform": [{"filter": "datum.p==5"}], "mark": {"type": "text", "align": "left", "baseline": "middle", "dx": 7, "fontSize": 9.8, "fontWeight": "bold", "color": "#000000"}, "encoding": {"x": {"field": "x", "type": "quantitative"}, "y": {"datum": 0.3}, "text": {"field": "t"}}}
  ]},
  {"data": {"name": "notes"}, "transform": [{"filter": "datum.p==5"}], "mark": {"type": "point", "opacity": 0}, "encoding": {"x": {"field": "x", "type": "quantitative", "axis": {"orient": "top", "values": [0,3,6,9,12,15,18,21,24,27,30,33,36,39,42,45,48,51,54,57,60,63,66,69,72,75,78,81,84,87], "tickCount": 100, "grid": false, "labels": false, "domain": false, "ticks": true, "tickSize": -7, "tickColor": "#000000", "title": null}}}}
 ]}
]},
{"spacing": 25, "vconcat": [
{"title": "Jadransko more\u00a0\u00a0y=1 mg m⁻² god⁻¹x+9.55 g m⁻² H=1 MAM", "width": 1147, "height": 79, "resolve": {"axis": {"x": "independent"}},
 "layer": [
  {"layer": [
   {"data": {"name": "black"}, "transform": [{"filter": "datum.p==6"}], "mark": {"type": "line", "color": "#000000", "strokeWidth": 0.8},
    "encoding": {"x": {"field": "x", "type": "quantitative", "scale": {"domain": [0, 89], "nice": false, "zero": false}, "axis": {"values": [0,3,6,9,12,15,18,21,24,27,30,33,36,39,42,45,48,51,54,57,60,63,66,69,72,75,78,81,84,87], "tickCount": 100, "grid": true, "gridColor": "#dadada", "gridWidth": 0.8, "ticks": true, "tickSize": -7, "tickColor": "#000000", "labels": false, "domain": false, "title": null}},
     "y": {"field": "y", "type": "quantitative", "scale": {"domain": [0, 0.34], "nice": false}, "axis": {"values": [0, 0.1, 0.2, 0.3], "tickCount": 10, "grid": true, "gridColor": "#e3e3e3", "tickSize": -7, "tickColor": "#000000", "domain": false, "labelOverlap": false, "labelFontSize": 10, "labelFontWeight": "bold", "labelColor": "#262626", "labelPadding": 14, "labelExpr": "datum.value==0?'0':format(datum.value,'.1f')", "title": "g m⁻²", "titleFontSize": 14, "titleFontWeight": "bold", "titlePadding": 11, "titleColor": "#000000"}}}},
   {"data": {"name": "blue"}, "transform": [{"filter": "datum.p==6"}], "mark": {"type": "line", "color": "#0000ff", "strokeWidth": 2}, "encoding": {"x": {"field": "x", "type": "quantitative"}, "y": {"field": "y", "type": "quantitative"}}},
   {"data": {"name": "red"}, "transform": [{"filter": "datum.p==6"}], "mark": {"type": "line", "color": "#ff2a2a", "strokeWidth": 1}, "encoding": {"x": {"field": "x", "type": "quantitative"}, "y": {"field": "y", "type": "quantitative"}, "detail": {"field": "s"}}},
   {"data": {"name": "notes"}, "transform": [{"filter": "datum.p==6"}], "mark": {"type": "text", "align": "left", "baseline": "middle", "dx": 7, "fontSize": 9.8, "fontWeight": "bold", "color": "#000000"}, "encoding": {"x": {"field": "x", "type": "quantitative"}, "y": {"datum": 0.3}, "text": {"field": "t"}}}
  ]},
  {"data": {"name": "notes"}, "transform": [{"filter": "datum.p==6"}], "mark": {"type": "point", "opacity": 0}, "encoding": {"x": {"field": "x", "type": "quantitative", "axis": {"orient": "top", "values": [0,3,6,9,12,15,18,21,24,27,30,33,36,39,42,45,48,51,54,57,60,63,66,69,72,75,78,81,84,87], "tickCount": 100, "grid": false, "labels": false, "domain": false, "ticks": true, "tickSize": -7, "tickColor": "#000000", "title": null}}}}
 ]},
{"title": "NAd\u00a0\u00a0y=0.75 mg m⁻² god⁻¹x+7.66 g m⁻² H=1 MAM", "width": 1147, "height": 79, "resolve": {"axis": {"x": "independent"}},
 "layer": [
  {"layer": [
   {"data": {"name": "black"}, "transform": [{"filter": "datum.p==7"}], "mark": {"type": "line", "color": "#000000", "strokeWidth": 0.8},
    "encoding": {"x": {"field": "x", "type": "quantitative", "scale": {"domain": [0, 89], "nice": false, "zero": false}, "axis": {"values": [0,3,6,9,12,15,18,21,24,27,30,33,36,39,42,45,48,51,54,57,60,63,66,69,72,75,78,81,84,87], "tickCount": 100, "grid": true, "gridColor": "#dadada", "gridWidth": 0.8, "ticks": true, "tickSize": -7, "tickColor": "#000000", "labels": false, "domain": false, "title": null}},
     "y": {"field": "y", "type": "quantitative", "scale": {"domain": [0, 0.34], "nice": false}, "axis": {"values": [0, 0.1, 0.2, 0.3], "tickCount": 10, "grid": true, "gridColor": "#e3e3e3", "tickSize": -7, "tickColor": "#000000", "domain": false, "labelOverlap": false, "labelFontSize": 10, "labelFontWeight": "bold", "labelColor": "#262626", "labelPadding": 14, "labelExpr": "datum.value==0?'0':format(datum.value,'.1f')", "title": "g m⁻²", "titleFontSize": 14, "titleFontWeight": "bold", "titlePadding": 11, "titleColor": "#000000"}}}},
   {"data": {"name": "blue"}, "transform": [{"filter": "datum.p==7"}], "mark": {"type": "line", "color": "#0000ff", "strokeWidth": 2}, "encoding": {"x": {"field": "x", "type": "quantitative"}, "y": {"field": "y", "type": "quantitative"}}},
   {"data": {"name": "red"}, "transform": [{"filter": "datum.p==7"}], "mark": {"type": "line", "color": "#ff2a2a", "strokeWidth": 1}, "encoding": {"x": {"field": "x", "type": "quantitative"}, "y": {"field": "y", "type": "quantitative"}, "detail": {"field": "s"}}},
   {"data": {"name": "notes"}, "transform": [{"filter": "datum.p==7"}], "mark": {"type": "text", "align": "left", "baseline": "middle", "dx": 7, "fontSize": 9.8, "fontWeight": "bold", "color": "#000000"}, "encoding": {"x": {"field": "x", "type": "quantitative"}, "y": {"datum": 0.3}, "text": {"field": "t"}}}
  ]},
  {"data": {"name": "notes"}, "transform": [{"filter": "datum.p==7"}], "mark": {"type": "point", "opacity": 0}, "encoding": {"x": {"field": "x", "type": "quantitative", "axis": {"orient": "top", "values": [0,3,6,9,12,15,18,21,24,27,30,33,36,39,42,45,48,51,54,57,60,63,66,69,72,75,78,81,84,87], "tickCount": 100, "grid": false, "labels": false, "domain": false, "ticks": true, "tickSize": -7, "tickColor": "#000000", "title": null}}}}
 ]},
{"title": "CAd\u00a0\u00a0y=0.82 mg m⁻² god⁻¹x+10.23 g m⁻² H=1 MAM", "width": 1147, "height": 79, "resolve": {"axis": {"x": "independent"}},
 "layer": [
  {"layer": [
   {"data": {"name": "black"}, "transform": [{"filter": "datum.p==8"}], "mark": {"type": "line", "color": "#000000", "strokeWidth": 0.8},
    "encoding": {"x": {"field": "x", "type": "quantitative", "scale": {"domain": [0, 89], "nice": false, "zero": false}, "axis": {"values": [0,3,6,9,12,15,18,21,24,27,30,33,36,39,42,45,48,51,54,57,60,63,66,69,72,75,78,81,84,87], "tickCount": 100, "grid": true, "gridColor": "#dadada", "gridWidth": 0.8, "ticks": true, "tickSize": -7, "tickColor": "#000000", "labels": false, "domain": false, "title": null}},
     "y": {"field": "y", "type": "quantitative", "scale": {"domain": [0, 0.34], "nice": false}, "axis": {"values": [0, 0.1, 0.2, 0.3], "tickCount": 10, "grid": true, "gridColor": "#e3e3e3", "tickSize": -7, "tickColor": "#000000", "domain": false, "labelOverlap": false, "labelFontSize": 10, "labelFontWeight": "bold", "labelColor": "#262626", "labelPadding": 14, "labelExpr": "datum.value==0?'0':format(datum.value,'.1f')", "title": "g m⁻²", "titleFontSize": 14, "titleFontWeight": "bold", "titlePadding": 11, "titleColor": "#000000"}}}},
   {"data": {"name": "blue"}, "transform": [{"filter": "datum.p==8"}], "mark": {"type": "line", "color": "#0000ff", "strokeWidth": 2}, "encoding": {"x": {"field": "x", "type": "quantitative"}, "y": {"field": "y", "type": "quantitative"}}},
   {"data": {"name": "red"}, "transform": [{"filter": "datum.p==8"}], "mark": {"type": "line", "color": "#ff2a2a", "strokeWidth": 1}, "encoding": {"x": {"field": "x", "type": "quantitative"}, "y": {"field": "y", "type": "quantitative"}, "detail": {"field": "s"}}},
   {"data": {"name": "notes"}, "transform": [{"filter": "datum.p==8"}], "mark": {"type": "text", "align": "left", "baseline": "middle", "dx": 7, "fontSize": 9.8, "fontWeight": "bold", "color": "#000000"}, "encoding": {"x": {"field": "x", "type": "quantitative"}, "y": {"datum": 0.3}, "text": {"field": "t"}}}
  ]},
  {"data": {"name": "notes"}, "transform": [{"filter": "datum.p==8"}], "mark": {"type": "point", "opacity": 0}, "encoding": {"x": {"field": "x", "type": "quantitative", "axis": {"orient": "top", "values": [0,3,6,9,12,15,18,21,24,27,30,33,36,39,42,45,48,51,54,57,60,63,66,69,72,75,78,81,84,87], "tickCount": 100, "grid": false, "labels": false, "domain": false, "ticks": true, "tickSize": -7, "tickColor": "#000000", "title": null}}}}
 ]},
{"title": "SAd\u00a0\u00a0y=1.37 mg m⁻² god⁻¹x+10.82 g m⁻² H=1 MAM", "width": 1147, "height": 79, "resolve": {"axis": {"x": "independent"}},
 "layer": [
  {"layer": [
   {"data": {"name": "black"}, "transform": [{"filter": "datum.p==9"}], "mark": {"type": "line", "color": "#000000", "strokeWidth": 0.8},
    "encoding": {"x": {"field": "x", "type": "quantitative", "scale": {"domain": [0, 89], "nice": false, "zero": false}, "axis": {"values": [0,3,6,9,12,15,18,21,24,27,30,33,36,39,42,45,48,51,54,57,60,63,66,69,72,75,78,81,84,87], "tickCount": 100, "grid": true, "gridColor": "#dadada", "gridWidth": 0.8, "ticks": true, "tickSize": -7, "tickColor": "#000000", "labels": false, "domain": false, "title": null}},
     "y": {"field": "y", "type": "quantitative", "scale": {"domain": [0, 0.34], "nice": false}, "axis": {"values": [0, 0.1, 0.2, 0.3], "tickCount": 10, "grid": true, "gridColor": "#e3e3e3", "tickSize": -7, "tickColor": "#000000", "domain": false, "labelOverlap": false, "labelFontSize": 10, "labelFontWeight": "bold", "labelColor": "#262626", "labelPadding": 14, "labelExpr": "datum.value==0?'0':format(datum.value,'.1f')", "title": "g m⁻²", "titleFontSize": 14, "titleFontWeight": "bold", "titlePadding": 11, "titleColor": "#000000"}}}},
   {"data": {"name": "blue"}, "transform": [{"filter": "datum.p==9"}], "mark": {"type": "line", "color": "#0000ff", "strokeWidth": 2}, "encoding": {"x": {"field": "x", "type": "quantitative"}, "y": {"field": "y", "type": "quantitative"}}},
   {"data": {"name": "red"}, "transform": [{"filter": "datum.p==9"}], "mark": {"type": "line", "color": "#ff2a2a", "strokeWidth": 1}, "encoding": {"x": {"field": "x", "type": "quantitative"}, "y": {"field": "y", "type": "quantitative"}, "detail": {"field": "s"}}},
   {"data": {"name": "notes"}, "transform": [{"filter": "datum.p==9"}], "mark": {"type": "text", "align": "left", "baseline": "middle", "dx": 7, "fontSize": 9.8, "fontWeight": "bold", "color": "#000000"}, "encoding": {"x": {"field": "x", "type": "quantitative"}, "y": {"datum": 0.3}, "text": {"field": "t"}}}
  ]},
  {"data": {"name": "notes"}, "transform": [{"filter": "datum.p==9"}], "mark": {"type": "point", "opacity": 0}, "encoding": {"x": {"field": "x", "type": "quantitative", "axis": {"orient": "top", "values": [0,3,6,9,12,15,18,21,24,27,30,33,36,39,42,45,48,51,54,57,60,63,66,69,72,75,78,81,84,87], "tickCount": 100, "grid": false, "labels": false, "domain": false, "ticks": true, "tickSize": -7, "tickColor": "#000000", "title": null}}}}
 ]},
{"title": "43.5 °N, 16.25 °E\u00a0\u00a0y=-0.05 mg m⁻² god⁻¹x+13.54 g m⁻² H=1 MAM", "width": 1147, "height": 79, "resolve": {"axis": {"x": "independent"}},
 "layer": [
  {"layer": [
   {"data": {"name": "black"}, "transform": [{"filter": "datum.p==10"}], "mark": {"type": "line", "color": "#000000", "strokeWidth": 0.8},
    "encoding": {"x": {"field": "x", "type": "quantitative", "scale": {"domain": [0, 89], "nice": false, "zero": false}, "axis": {"values": [0,3,6,9,12,15,18,21,24,27,30,33,36,39,42,45,48,51,54,57,60,63,66,69,72,75,78,81,84,87], "tickCount": 100, "grid": true, "gridColor": "#dadada", "gridWidth": 0.8, "ticks": true, "tickSize": -7, "tickColor": "#000000", "labels": true, "labelAngle": -45, "labelFontSize": 16, "labelFontWeight": "bold", "labelColor": "#262626", "labelPadding": 10, "labelOverlap": false, "labelFlush": false, "labelBound": false, "labelExpr": "['01/03/90','04/03/92','07/03/94','10/03/96','13/03/98','16/03/00','19/03/02','22/03/04','25/03/06','28/03/08','31/03/10','03/04/12','06/04/14','09/04/16','12/04/18','16/04/90','19/04/92','22/04/94','25/04/96','28/04/98','01/05/00','04/05/02','07/05/04','10/05/06','13/05/08','16/05/10','19/05/12','22/05/14','25/05/16','28/05/18'][round(datum.value/3)]", "domain": false, "title": null}},
     "y": {"field": "y", "type": "quantitative", "scale": {"domain": [0, 0.35], "nice": false}, "axis": {"values": [0, 0.2], "tickCount": 10, "grid": true, "gridColor": "#e3e3e3", "tickSize": -7, "tickColor": "#000000", "domain": false, "labelOverlap": false, "labelFontSize": 16, "labelFontWeight": "bold", "labelColor": "#262626", "labelPadding": 14, "labelExpr": "datum.value==0?'0':format(datum.value,'.1f')", "title": "g m⁻²", "titleFontSize": 14, "titleFontWeight": "bold", "titlePadding": 4, "titleColor": "#000000"}}}},
   {"data": {"name": "blue"}, "transform": [{"filter": "datum.p==10"}], "mark": {"type": "line", "color": "#0000ff", "strokeWidth": 2}, "encoding": {"x": {"field": "x", "type": "quantitative"}, "y": {"field": "y", "type": "quantitative"}}},
   {"data": {"name": "red"}, "transform": [{"filter": "datum.p==10"}], "mark": {"type": "line", "color": "#ff2a2a", "strokeWidth": 1}, "encoding": {"x": {"field": "x", "type": "quantitative"}, "y": {"field": "y", "type": "quantitative"}, "detail": {"field": "s"}}},
   {"data": {"name": "notes"}, "transform": [{"filter": "datum.p==10"}], "mark": {"type": "text", "align": "left", "baseline": "middle", "dx": 7, "fontSize": 9.8, "fontWeight": "bold", "color": "#000000"}, "encoding": {"x": {"field": "x", "type": "quantitative"}, "y": {"datum": 0.3}, "text": {"field": "t"}}}
  ]},
  {"data": {"name": "notes"}, "transform": [{"filter": "datum.p==10"}], "mark": {"type": "point", "opacity": 0}, "encoding": {"x": {"field": "x", "type": "quantitative", "axis": {"orient": "top", "values": [0,3,6,9,12,15,18,21,24,27,30,33,36,39,42,45,48,51,54,57,60,63,66,69,72,75,78,81,84,87], "tickCount": 100, "grid": false, "labels": false, "domain": false, "ticks": true, "tickSize": -7, "tickColor": "#000000", "title": null}}}}
 ]}
]}
]
}
